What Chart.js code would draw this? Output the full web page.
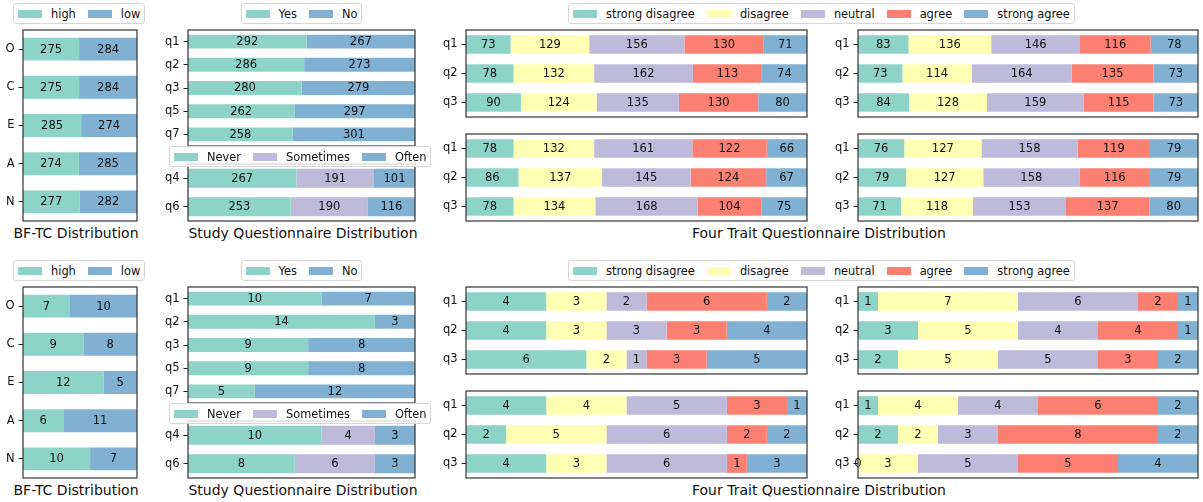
<!DOCTYPE html>
<html>
<head>
<meta charset="utf-8">
<script src="https://cdn.jsdelivr.net/npm/chart.js@4.4.1/dist/chart.umd.min.js"></script>
<style>
body{margin:0;background:#fff;font-family:'DejaVu Sans',sans-serif;}
#page{position:relative;width:1203px;height:502px;overflow:hidden;background:#fff;}
canvas{position:absolute;}
.legend{position:absolute;z-index:5;display:flex;align-items:center;height:21px;box-sizing:border-box;padding:0 4px;
  background:rgba(255,255,255,0.8);border:1px solid #d6d6d6;border-radius:3px;font-size:11.4px;color:#111;white-space:nowrap;}
.legend .item{display:flex;align-items:center;margin-right:12px;}
.legend .item:last-child{margin-right:0;}
.legend .sw{width:24px;height:8px;margin-right:9px;}
.title{position:absolute;font-size:14px;color:#111;transform:translate(-50%,-50%);white-space:nowrap;}
</style>
</head>
<body>
<div id="page"></div>
<script>
// ---- data ----
const bfCats = ['O', 'C', 'E', 'A', 'N'];
const bfLabels = ['high', 'low'];
const bfHighAll = [275, 275, 285, 274, 277];
const bfLowAll = [284, 284, 274, 285, 282];
const bfHighSub = [7, 9, 12, 6, 10];
const bfLowSub = [10, 8, 5, 11, 7];

const ynCats = ['q1', 'q2', 'q3', 'q5', 'q7'];
const ynLabels = ['Yes', 'No'];
const yesAll = [292, 286, 280, 262, 258];
const noAll = [267, 273, 279, 297, 301];
const yesSub = [10, 14, 9, 9, 5];
const noSub = [7, 3, 8, 8, 12];

const freqCats = ['q4', 'q6'];
const freqLabels = ['Never', 'Sometimes', 'Often'];
const neverAll = [267, 253];
const sometimesAll = [191, 190];
const oftenAll = [101, 116];
const neverSub = [10, 8];
const sometimesSub = [4, 6];
const oftenSub = [3, 3];

const traitCats = ['q1', 'q2', 'q3'];
const likertLabels = ['strong disagree', 'disagree', 'neutral', 'agree', 'strong agree'];
// one row per question, columns follow likertLabels
const traitAll1 = [[73, 129, 156, 130, 71], [78, 132, 162, 113, 74], [90, 124, 135, 130, 80]];
const traitAll2 = [[83, 136, 146, 116, 78], [73, 114, 164, 135, 73], [84, 128, 159, 115, 73]];
const traitAll3 = [[78, 132, 161, 122, 66], [86, 137, 145, 124, 67], [78, 134, 168, 104, 75]];
const traitAll4 = [[76, 127, 158, 119, 79], [79, 127, 158, 116, 79], [71, 118, 153, 137, 80]];
const traitSub1 = [[4, 3, 2, 6, 2], [4, 3, 3, 3, 4], [6, 2, 1, 3, 5]];
const traitSub2 = [[1, 7, 6, 2, 1], [3, 5, 4, 4, 1], [2, 5, 5, 3, 2]];
const traitSub3 = [[4, 4, 5, 3, 1], [2, 5, 6, 2, 2], [4, 3, 6, 1, 3]];
const traitSub4 = [[1, 4, 4, 6, 2], [2, 2, 3, 8, 2], [0, 3, 5, 5, 4]];

const totalAll = 559;
const totalSub = 17;

const teal = '#8dd3c7', yellow = '#ffffb3', lav = '#bebada', salmon = '#fb8072', blue = '#80b1d3';
const twoColors = [teal, blue];
const freqColors = [teal, lav, blue];
const likertColors = [teal, yellow, lav, salmon, blue];

Chart.defaults.font.family = 'DejaVu Sans';
Chart.defaults.font.size = 11.5;
Chart.defaults.color = '#111';

const page = document.getElementById('page');
const AXW = 30;

// value text in the middle of every segment
const barText = {
    id: 'barText',
    afterDatasetsDraw(chart) {
        const ctx = chart.ctx;
        ctx.save();
        ctx.font = '11.5px "DejaVu Sans"';
        ctx.fillStyle = '#111';
        ctx.textAlign = 'center';
        ctx.textBaseline = 'middle';
        chart.data.datasets.forEach((ds, i) => {
            chart.getDatasetMeta(i).data.forEach((el, j) => {
                ctx.fillText(ds.data[j], (el.x + el.base) / 2, el.y + 0.5);
            });
        });
        ctx.restore();
    }
};

// axes frame like matplotlib spines
const frame = {
    id: 'frame',
    afterDraw(chart) {
        const a = chart.chartArea;
        const ctx = chart.ctx;
        ctx.save();
        ctx.strokeStyle = '#333';
        ctx.lineWidth = 1.2;
        ctx.strokeRect(a.left, a.top, a.right - a.left, a.bottom - a.top);
        ctx.restore();
    }
};

function transpose(rows) {
    return rows[0].map((_, k) => rows.map(r => r[k]));
}

function panel(L, T, R, B, cats, labels, series, colors, total, barPct) {
    const cv = document.createElement('canvas');
    cv.width = AXW + (R - L) + 1;
    cv.height = (B - T) + 2;
    cv.style.left = (L - AXW) + 'px';
    cv.style.top = (T - 1) + 'px';
    page.appendChild(cv);

    const datasets = series.map((vals, k) => ({
        label: labels[k],
        data: vals,
        backgroundColor: colors[k],
        borderWidth: 0,
        barPercentage: barPct,
        categoryPercentage: 1
    }));

    new Chart(cv.getContext('2d'), {
        type: 'bar',
        data: { labels: cats, datasets },
        options: {
            indexAxis: 'y',
            responsive: false,
            animation: false,
            layout: { padding: { top: 1, right: 1, bottom: 1, left: 0 } },
            plugins: { legend: { display: false }, tooltip: { enabled: false } },
            scales: {
                x: { display: false, stacked: true, min: 0, max: total },
                y: {
                    stacked: true,
                    offset: true,
                    border: { display: false },
                    grid: { drawOnChartArea: false, drawTicks: true, tickLength: 4.5, offset: false, color: '#222' },
                    ticks: { padding: 4, color: '#111', font: { size: 11.5 } },
                    afterFit(scale) {
                        // fixed axis width and no label overhang, so the plot box fills the canvas
                        scale.width = AXW;
                        scale.paddingTop = 0;
                        scale.paddingBottom = 0;
                    }
                }
            }
        },
        plugins: [barText, frame]
    });
}

function legend(x, y, labels, colors) {
    const d = document.createElement('div');
    d.className = 'legend';
    d.style.left = x + 'px';
    d.style.top = y + 'px';
    d.innerHTML = labels.map((t, k) =>
        `<span class="item"><span class="sw" style="background:${colors[k]}"></span>${t}</span>`).join('');
    page.appendChild(d);
}

function title(x, y, text) {
    const d = document.createElement('div');
    d.className = 'title';
    d.style.left = x + 'px';
    d.style.top = y + 'px';
    d.textContent = text;
    page.appendChild(d);
}

const rows = [
    { dy: 0, total: totalAll, bf: [bfHighAll, bfLowAll], yn: [yesAll, noAll],
      fr: [neverAll, sometimesAll, oftenAll], tr: [traitAll1, traitAll2, traitAll3, traitAll4] },
    { dy: 257, total: totalSub, bf: [bfHighSub, bfLowSub], yn: [yesSub, noSub],
      fr: [neverSub, sometimesSub, oftenSub], tr: [traitSub1, traitSub2, traitSub3, traitSub4] }
];

rows.forEach(r => {
    const d = r.dy;
    panel(23, 30 + d, 137, 221 + d, bfCats, bfLabels, r.bf, twoColors, r.total, 0.6);
    panel(188, 30 + d, 415, 146 + d, ynCats, ynLabels, r.yn, twoColors, r.total, 0.6);
    panel(188, 164 + d, 415, 221 + d, freqCats, freqLabels, r.fr, freqColors, r.total, 0.67);
    panel(466, 30 + d, 807, 117 + d, traitCats, likertLabels, transpose(r.tr[0]), likertColors, r.total, 0.645);
    panel(858, 30 + d, 1198, 117 + d, traitCats, likertLabels, transpose(r.tr[1]), likertColors, r.total, 0.645);
    panel(466, 134 + d, 807, 221 + d, traitCats, likertLabels, transpose(r.tr[2]), likertColors, r.total, 0.645);
    panel(858, 134 + d, 1198, 221 + d, traitCats, likertLabels, transpose(r.tr[3]), likertColors, r.total, 0.645);

    legend(13, 3 + d, bfLabels, twoColors);
    legend(240.5, 3 + d, ynLabels, twoColors);
    legend(169, 146 + d, freqLabels, freqColors);
    legend(568, 3 + d, likertLabels, likertColors);

    title(76, 233 + d, 'BF-TC Distribution');
    title(303, 233 + d, 'Study Questionnaire Distribution');
    title(819, 233 + d, 'Four Trait Questionnaire Distribution');
});
</script>
</body>
</html>
